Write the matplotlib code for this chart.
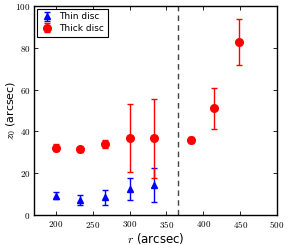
import numpy as np
import matplotlib
matplotlib.use('Agg')
import matplotlib.pyplot as plt
from matplotlib.ticker import FuncFormatter

plt.rcParams['mathtext.fontset'] = 'cm'
plt.rcParams['font.family'] = ['DejaVu Sans']

# thin disc
r_thin = [200, 233, 267, 300, 333]
z_thin = [9.3, 7.3, 8.5, 12.3, 14.3]
e_thin = [1.6, 2.3, 3.5, 5.2, 8.1]

# thick disc
r_thick = [200, 233, 267, 300, 333, 383, 415, 448]
z_thick = [32.3, 31.4, 33.9, 36.8, 36.7, 35.9, 51.0, 82.6]
e_thick = [1.6, 1.0, 1.8, 16.2, 18.8, 1.3, 9.8, 11.0]

r_break = 365

fig = plt.figure(figsize=(2.87, 2.45), dpi=100)
ax = fig.add_axes([0.118, 0.122, 0.847, 0.854])

ax.errorbar(r_thin, z_thin, yerr=e_thin, fmt='^', color='blue', ms=5,
            capsize=2.5, elinewidth=1.0, capthick=1.0, mec='blue', label='Thin disc')
ax.errorbar(r_thick, z_thick, yerr=e_thick, fmt='o', color='red', ms=5.5,
            capsize=2.5, elinewidth=1.0, capthick=1.0, mec='red', label='Thick disc')
ax.axvline(r_break, color='#444444', ls='--', lw=1.0, dashes=(4, 3))

ax.set_xlim(170, 500)
ax.set_ylim(0, 100)
ax.set_xticks([200, 250, 300, 350, 400, 450, 500])
ax.set_yticks([0, 20, 40, 60, 80, 100])
fmt = FuncFormatter(lambda v, p: '$%d$' % v)
ax.xaxis.set_major_formatter(fmt)
ax.yaxis.set_major_formatter(fmt)
ax.tick_params(direction='in', top=True, right=True, length=3, width=0.6,
               labelsize=6.5, pad=2.5)
for s in ax.spines.values():
    s.set_linewidth(1.0)

ax.set_xlabel('$r$ (arcsec)', fontsize=8.5, labelpad=1)
ax.set_ylabel('$z_0$ (arcsec)', fontsize=8)
ax.yaxis.set_label_coords(-0.066, 0.5)

leg = ax.legend(loc='upper left', numpoints=1, fontsize=6.5, fancybox=False,
                edgecolor='black', framealpha=1, borderaxespad=0.3,
                handlelength=1.5, handletextpad=0.6, borderpad=0.4, labelspacing=0.3)
leg.get_frame().set_linewidth(0.8)

fig.savefig('out.png', dpi=100)
